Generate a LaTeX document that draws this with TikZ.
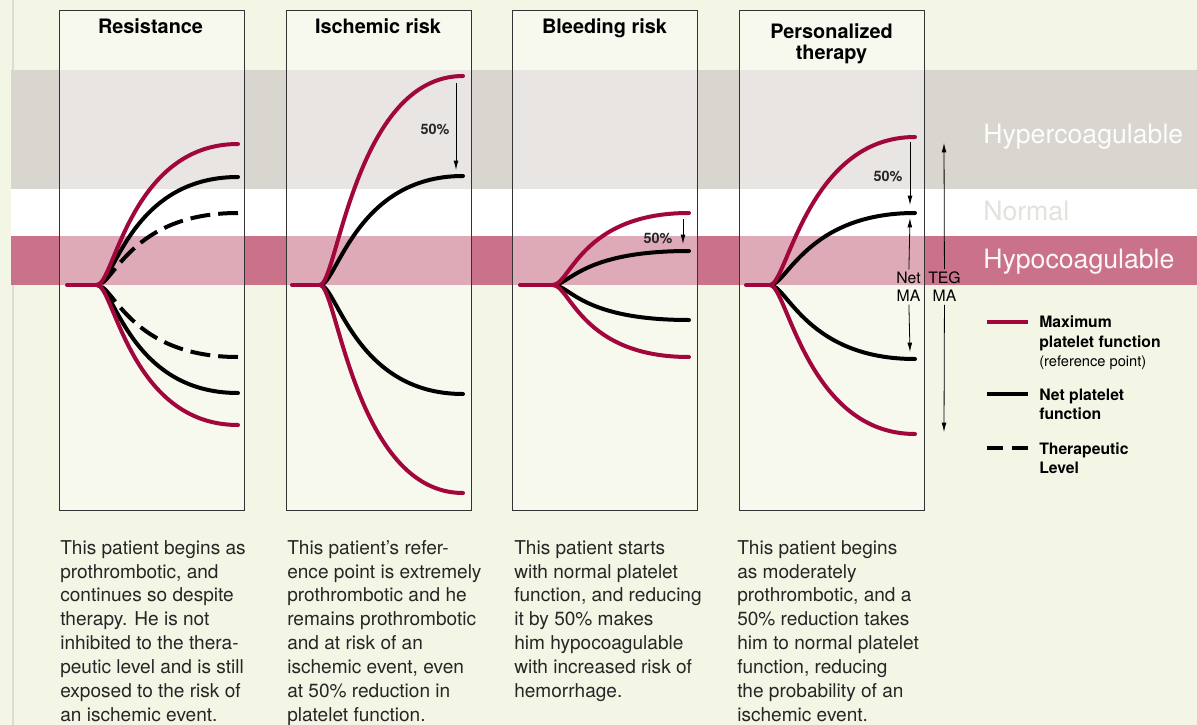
\documentclass[tikz,border=0pt]{standalone}
\usepackage{fontspec}
\setmainfont{TeX Gyre Heros}
\usetikzlibrary{positioning}
\usetikzlibrary{calc}
\usetikzlibrary{arrows.meta}

\definecolor{pagebg}{HTML}{F3F5E5}
\definecolor{hyperband}{HTML}{D9D5CF}
\definecolor{hypoband}{HTML}{C9728A}
\definecolor{maxred}{HTML}{A1063C}
\definecolor{edgegrey}{HTML}{DDDCD3}

\tikzset{
  panel/.style={draw=black!80, line width=0.7pt, fill=white, fill opacity=0.4},
  maxline/.style={draw=maxred, line width=3pt, line cap=round},
  netline/.style={draw=black, line width=3pt, line cap=round},
  therline/.style={draw=black, line width=3pt, dash pattern=on 15pt off 6pt, dash phase=-4pt},
  sweep/.style={to path={.. controls +(17,0) and +(-108,0) .. (\tikztotarget)}},
  measure/.style={-{Latex[length=7pt,width=3.6pt]}, line width=0.6pt},
  paneltitle/.style={font=\fontsize{14.9}{15.75}\selectfont\bfseries, inner sep=0pt},
  story/.style={font=\fontsize{14.3}{17.9}\selectfont, align=left, anchor=north west, inner sep=0pt, text=black!85},
  bandlabel/.style={font=\fontsize{20}{24}\selectfont, anchor=base west, inner sep=0pt},
  pct/.style={font=\fontsize{10.8}{12}\selectfont\bfseries, text=black!85},
  malabel/.style={font=\fontsize{11.8}{13.5}\selectfont, align=center, inner sep=2pt},
  keytext/.style={font=\fontsize{11.8}{14.6}\selectfont\bfseries, align=left, anchor=north west, inner sep=0pt},
}

\begin{document}
\begin{tikzpicture}[x=0.75pt,y=-0.75pt]
\useasboundingbox (0,0) rectangle (1197,725);
\fill[pagebg] (0,0) rectangle (1197,725);
\draw[edgegrey, line width=0.8pt] (13,0) -- (13,725);

% coagulation bands
\fill[hyperband] (11,70) rectangle (1197,189);
\fill[white] (11,189) rectangle (1197,236);
\fill[hypoband] (11,236) rectangle (1197,285);

\node[bandlabel, text=white!96!hyperband] (hyper) at (983,143) {Hypercoagulable};
\node[bandlabel, text=hyperband!70!white] (normal) at (983,220) {Normal};
\node[bandlabel, text=white!95!hypoband] (hypo) at (983,268) {Hypocoagulable};

% panels
\draw[panel] (59,10) rectangle (244,510);
\draw[panel] (286,10) rectangle (471,510);
\draw[panel] (512,10) rectangle (697,510);
\draw[panel] (739,10) rectangle (924,510);

\node[paneltitle, anchor=base] (t1) at (150.5,33) {Resistance};
\node[paneltitle, anchor=base] (t2) at (378,33) {Ischemic risk};
\node[paneltitle, anchor=base] (t3) at (604.5,33) {Bleeding risk};
\node[paneltitle, anchor=north, align=center] (t4) at (831.5,23) {Personalized\\therapy};

% Resistance
\coordinate (s1) at (67,285);
\coordinate (b1) at (97,285);
\coordinate (r1a) at (238,144);
\coordinate (n1a) at (238,177);
\coordinate (d1a) at (238,213);
\coordinate (d1b) at (238,357);
\coordinate (n1b) at (238,393);
\coordinate (r1b) at (238,425);
\path
(b1) edge[therline, sweep] (d1a)
(b1) edge[therline, sweep] (d1b)
(b1) edge[netline, sweep] (n1a)
(b1) edge[netline, sweep] (n1b)
(b1) edge[maxline, sweep] (r1a)
(b1) edge[maxline, sweep] (r1b);
\draw[maxline] (s1) -- (b1);

% Ischemic risk
\coordinate (s2) at (292,285);
\coordinate (b2) at (320,285);
\coordinate (r2a) at (463,76);
\coordinate (n2a) at (463,176);
\coordinate (n2b) at (463,394);
\coordinate (r2b) at (463,493);
\path
(b2) edge[netline, sweep] (n2a)
(b2) edge[netline, sweep] (n2b)
(b2) edge[maxline, sweep] (r2a)
(b2) edge[maxline, sweep] (r2b);
\draw[maxline] (s2) -- (b2);
\coordinate (m2a) at (456,83);
\coordinate (m2b) at (456,170);
\draw[measure] (m2a) -- (m2b);
\node[pct] (pct2) at (435,129) {50\%};

% Bleeding risk
\coordinate (s3) at (520,285);
\coordinate (b3) at (553,285);
\coordinate (r3a) at (689,213);
\coordinate (n3a) at (689,251);
\coordinate (n3b) at (689,320);
\coordinate (r3b) at (689,357);
\path
(b3) edge[netline, sweep] (n3a)
(b3) edge[netline, sweep] (n3b)
(b3) edge[maxline, sweep] (r3a)
(b3) edge[maxline, sweep] (r3b);
\draw[maxline] (s3) -- (b3);
\coordinate (m3a) at (683,219);
\coordinate (m3b) at (683,244);
\draw[measure] (m3a) -- (m3b);
\node[pct] (pct3) at (658,238) {50\%};

% Personalized therapy
\coordinate (s4) at (746,285);
\coordinate (b4) at (770,285);
\coordinate (r4a) at (915,137);
\coordinate (n4a) at (915,213);
\coordinate (n4b) at (915,359);
\coordinate (r4b) at (915,434);
\path
(b4) edge[netline, sweep] (n4a)
(b4) edge[netline, sweep] (n4b)
(b4) edge[maxline, sweep] (r4a)
(b4) edge[maxline, sweep] (r4b);
\draw[maxline] (s4) -- (b4);
\coordinate (m4a) at (910,142);
\coordinate (m4b) at (910,205);
\draw[measure] (m4a) -- (m4b);
\node[pct] (pct4) at (888,176) {50\%};

\node[malabel] (netma) at (908.5,287) {Net\\MA};
\coordinate (netup) at (910,218);
\coordinate (netdown) at (910,352);
\node[malabel] (tegma) at (944.5,287) {TEG\\MA};
\coordinate (tegup) at (944,143);
\coordinate (tegdown) at (944,432);
\path
(netma) edge[measure] (netup)
(netma) edge[measure] (netdown)
(tegma) edge[measure] (tegup)
(tegma) edge[measure] (tegdown);

% legend
\draw[maxline, line cap=butt] (987,322) -- (1028,322);
\draw[netline, line cap=butt] (987,394) -- (1028,394);
\draw[black, line width=3pt] (987,448) -- (1003,448) (1012,448) -- (1028,448);
\node[keytext] (keymax) at (1039,316) {Maximum\\platelet function\\{\fontsize{11}{14.6}\selectfont\mdseries (reference point)}};
\node[keytext] (keynet) at (1039,388.5) {Net platelet\\function};
\node[keytext] (keyther) at (1039,442.5) {Therapeutic\\Level};

% stories
\node[story] (story1) at (60,540) {This patient begins as\\prothrombotic, and\\continues so despite\\therapy. He is not\\inhibited to the thera-\\peutic level and is still\\exposed to the risk of\\an ischemic event.};
\node[story] (story2) at (287,540) {This patient’s refer-\\ence point is extremely\\prothrombotic and he\\remains prothrombotic\\and at risk of an\\ischemic event, even\\at 50\% reduction in\\platelet function.};
\node[story] (story3) at (514,540) {This patient starts\\with normal platelet\\function, and reducing\\it by 50\% makes\\him hypocoagulable\\with increased risk of\\hemorrhage.};
\node[story] (story4) at (737,540) {This patient begins\\as moderately\\prothrombotic, and a\\50\% reduction takes\\him to normal platelet\\function, reducing\\the probability of an\\ischemic event.};
\end{tikzpicture}
\end{document}
